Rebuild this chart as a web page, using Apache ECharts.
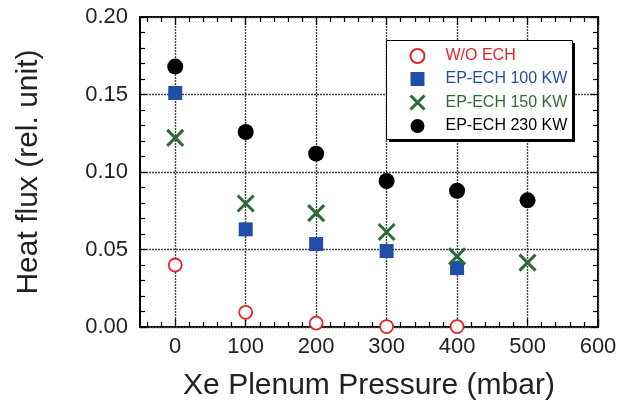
<!DOCTYPE html>
<html>
<head>
<meta charset="utf-8">
<script src="https://cdn.jsdelivr.net/npm/echarts@6/dist/echarts.min.js"></script>
<style>
html,body{margin:0;padding:0;background:#fff;}
#chart{width:630px;height:406px;}
</style>
</head>
<body>
<div id="chart"></div>
<script>
// ---- data ----
var pressures = [0, 100, 200, 300, 400, 500];
var woEch   = [0.040, 0.0095, 0.0025, 0.0003, 0.0003];
var ech100  = [0.151, 0.063, 0.0535, 0.049, 0.038];
var ech150  = [0.122, 0.0797, 0.0735, 0.0613, 0.0456, 0.0415];
var ech230  = [0.168, 0.1258, 0.1118, 0.0942, 0.0879, 0.0817];
var xMajorTicks = [0, 100, 200, 300, 400, 500, 600];
var seriesNames = ['W/O ECH', 'EP-ECH 100 KW', 'EP-ECH 150 KW', 'EP-ECH 230 KW'];
var colors = ['#e1262b', '#1f4ea6', '#2e6a37', '#000000'];

var xMinorTicks = [];
for (var v = -40; v < 600; v += 20) { if (v % 100 !== 0) xMinorTicks.push(v); }

function pairs(vals) { return vals.map(function (y, i) { return [pressures[i], y]; }); }

var FONT = 'Liberation Sans, Arial, sans-serif';
var crossPath = 'path://M0,0L10,10M10,0L0,10';
var squarePath = 'path://M0,0L10,0L10,10L0,10Z';
var gridLine = { color: '#444', type: [2, 1], width: 1.4 };

function xAxisDef(pos, ticks, len, showLabel, showSplit) {
  return {
    type: 'value', position: pos, min: -50, max: 600,
    gridIndex: 0,
    axisLine: { show: false, onZero: false },
    axisTick: { show: true, inside: true, length: len, customValues: ticks,
      lineStyle: { color: '#000', width: 1.2 } },
    axisLabel: { show: showLabel, customValues: xMajorTicks, margin: 9,
      fontSize: 22, color: '#222', fontFamily: FONT },
    splitLine: { show: showSplit, lineStyle: gridLine },
    name: showLabel ? 'Xe Plenum Pressure (mbar)' : '',
    nameLocation: 'middle', nameGap: 44,
    nameTextStyle: { fontSize: 30, color: '#222', fontFamily: FONT }
  };
}
function yAxisDef(pos, showLabel, showSplit) {
  return {
    type: 'value', position: pos, min: 0, max: 0.2, interval: 0.05,
    axisLine: { show: false, onZero: false },
    axisTick: { show: true, inside: true, length: 7, lineStyle: { color: '#000', width: 1.2 } },
    minorTick: { show: true, splitNumber: 5, length: 5, lineStyle: { color: '#000', width: 1.2 } },
    axisLabel: { show: showLabel, margin: 12, fontSize: 22, color: '#222', fontFamily: FONT,
      formatter: function (v) { return v.toFixed(2); } },
    splitLine: { show: showSplit, lineStyle: gridLine },
    name: showLabel ? 'Heat flux (rel. unit)' : '',
    nameLocation: 'middle', nameGap: 96, nameRotate: 90,
    nameTextStyle: { fontSize: 30, color: '#222', fontFamily: FONT }
  };
}

function legendItem(i, icon, itemStyle) {
  return { name: seriesNames[i], icon: icon, itemStyle: itemStyle,
    textStyle: { color: colors[i], fontSize: 16, fontFamily: FONT } };
}

var chart = echarts.init(document.getElementById('chart'), null, { renderer: 'canvas' });
var option = {
  animation: false,
  backgroundColor: '#fff',
  grid: { left: 140, right: 32, top: 17, bottom: 71, show: true,
    borderColor: '#000', borderWidth: 2, backgroundColor: 'transparent' },
  graphic: [
    { type: 'rect', left: 389, top: 43, z: 50, silent: true,
      shape: { width: 186, height: 99 }, style: { fill: '#000' } },
    { type: 'rect', left: 386, top: 40, z: 51, silent: true,
      shape: { width: 186, height: 99 }, style: { fill: '#fff', stroke: '#000', lineWidth: 1 } }
  ],
  xAxis: [
    xAxisDef('bottom', xMajorTicks, 8, true, true),
    xAxisDef('bottom', xMinorTicks, 5, false, false),
    xAxisDef('top', xMajorTicks, 8, false, false),
    xAxisDef('top', xMinorTicks, 5, false, false)
  ],
  yAxis: [
    yAxisDef('left', true, true),
    yAxisDef('right', false, false)
  ],
  legend: {
    orient: 'vertical', left: 386, top: 40, z: 60,
    padding: [8, 6, 8, 23],
    itemGap: 7, itemWidth: 46, itemHeight: 14,
    symbolKeepAspect: true,
    textStyle: { fontSize: 16, fontFamily: FONT },
    data: [
      legendItem(0, 'circle', { color: 'transparent', borderColor: colors[0], borderWidth: 2 }),
      legendItem(1, squarePath, { color: colors[1] }),
      legendItem(2, crossPath, { color: 'transparent', borderColor: colors[2], borderWidth: 3 }),
      legendItem(3, 'circle', { color: colors[3] })
    ]
  },
  series: [
    { name: seriesNames[0], type: 'scatter', data: pairs(woEch), symbol: 'circle', symbolSize: 13,
      itemStyle: { color: '#fff', borderColor: colors[0], borderWidth: 1.8, opacity: 1 }, z: 5 },
    { name: seriesNames[1], type: 'scatter', data: pairs(ech100), symbol: 'rect', symbolSize: 14,
      itemStyle: { color: colors[1], opacity: 1 }, z: 5 },
    { name: seriesNames[2], type: 'scatter', data: pairs(ech150), symbol: crossPath, symbolSize: 16,
      itemStyle: { color: 'transparent', borderColor: colors[2], borderWidth: 3, opacity: 1 }, z: 6 },
    { name: seriesNames[3], type: 'scatter', data: pairs(ech230), symbol: 'circle', symbolSize: 16,
      itemStyle: { color: colors[3], opacity: 1 }, z: 5 }
  ]
};
chart.setOption(option);
</script>
</body>
</html>
